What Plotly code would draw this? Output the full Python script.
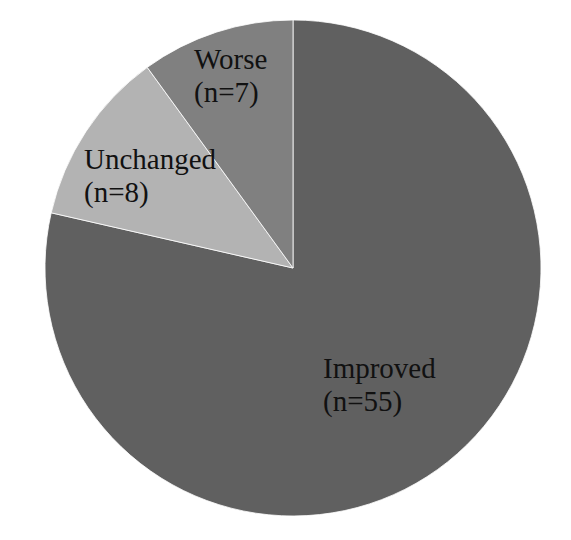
import plotly.graph_objects as go

labels = ["Improved", "Unchanged", "Worse"]
counts = [55, 8, 7]
colors = ["#606060", "#b3b3b3", "#808080"]

# label anchor positions in pixels (left x, baseline of first line)
label_pos = {"Improved": (323, 378), "Unchanged": (84, 169), "Worse": (194, 69)}

W, H = 571, 540
OFF = 8  # page body margin
cx, cy, r = 293 - OFF, 268 - OFF, 248

fig = go.Figure(go.Pie(
    labels=labels,
    values=counts,
    sort=False,
    direction="clockwise",
    rotation=0,
    marker=dict(colors=colors, line=dict(color="#ffffff", width=0.8)),
    textinfo="none",
    hoverinfo="label+value",
    showlegend=False,
    domain=dict(x=[(cx - r) / W, (cx + r) / W],
                y=[(H - cy - r) / H, (H - cy + r) / H]),
))

fs = 29
line_gap = 33
annotations = []
for lab, n in zip(labels, counts):
    x0, yb = label_pos[lab]
    x0 -= OFF
    yb -= OFF
    for i, txt in enumerate([lab, f"(n={n})"]):
        ymid = yb + i * line_gap - 0.34 * fs
        annotations.append(dict(
            text=txt, x=(x0 - 2) / W, y=1 - ymid / H, xref="paper", yref="paper",
            xanchor="left", yanchor="middle", showarrow=False, align="left",
            font=dict(family="Liberation Serif", size=fs, color="#111111"),
        ))

fig.update_layout(
    width=W, height=H,
    margin=dict(l=0, r=0, t=0, b=0),
    paper_bgcolor="white", plot_bgcolor="white",
    annotations=annotations,
)

fig.write_html("out.html")
